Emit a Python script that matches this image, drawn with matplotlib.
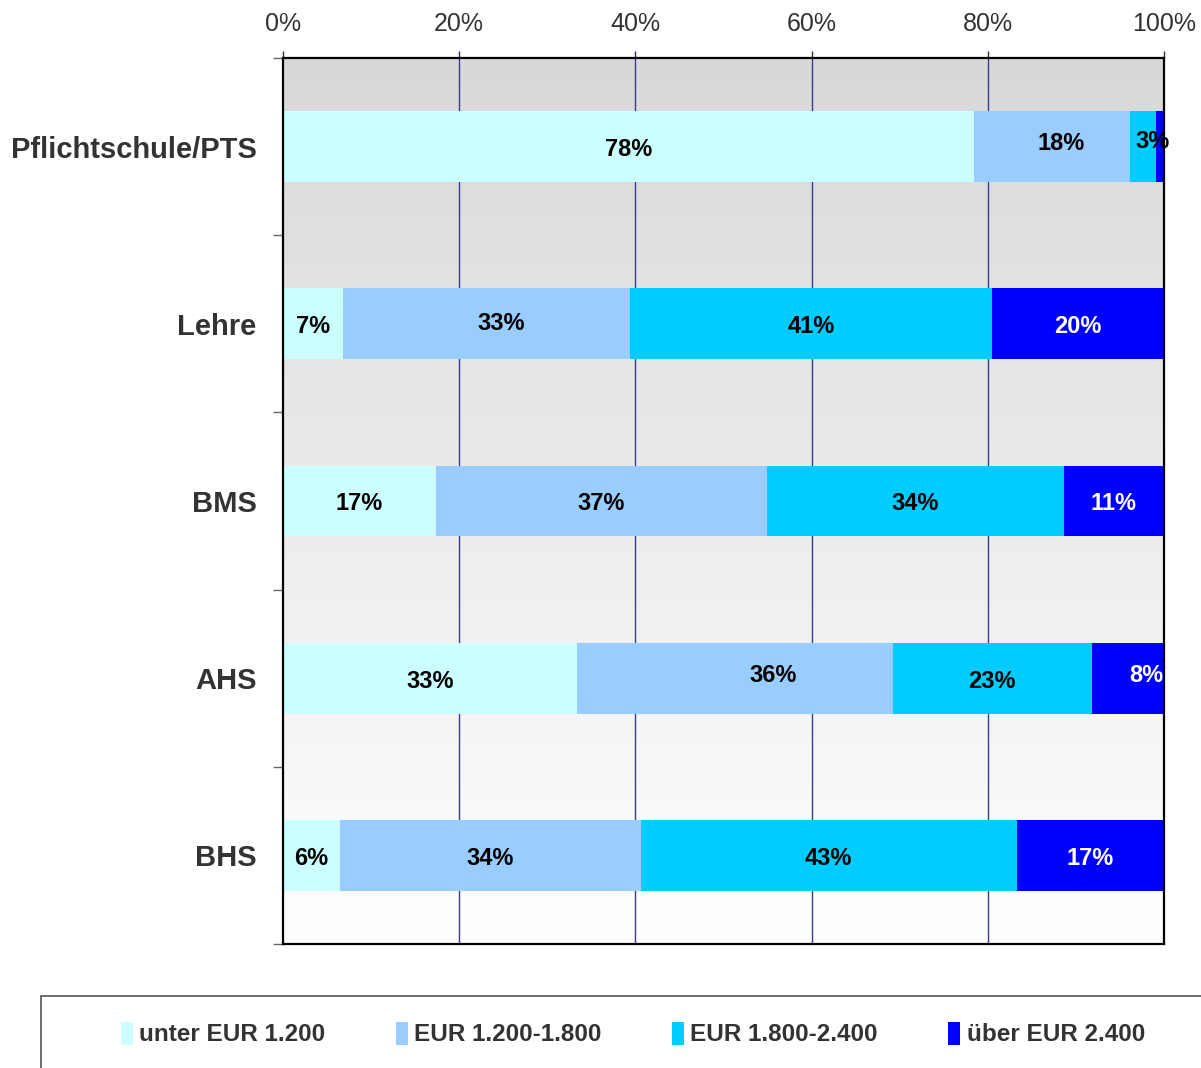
import numpy as np
import matplotlib.pyplot as plt
from matplotlib.patches import Rectangle

plt.rcParams['font.family'] = ['Liberation Sans', 'DejaVu Sans']

categories = ['Pflichtschule/PTS', 'Lehre', 'BMS', 'AHS', 'BHS']
series = ['unter EUR 1.200', 'EUR 1.200-1.800', 'EUR 1.800-2.400', 'über EUR 2.400']
unter_1200 = [78.4, 6.8, 17.4, 33.4, 6.5]
eur_1200_1800 = [17.7, 32.6, 37.5, 35.8, 34.1]
eur_1800_2400 = [3.0, 41.1, 33.7, 22.6, 42.7]
ueber_2400 = [0.9, 19.5, 11.4, 8.2, 16.7]
labels = [
    ['78%', '18%', '3%', ''],
    ['7%', '33%', '41%', '20%'],
    ['17%', '37%', '34%', '11%'],
    ['33%', '36%', '23%', '8%'],
    ['6%', '34%', '43%', '17%'],
]
xticks = [0, 20, 40, 60, 80, 100]

colors = ['#CCFFFF', '#99CCFF', '#00CCFF', '#0000FF']
text_colors = ['black', 'black', 'black', 'white']
# some labels sit a bit off-centre in the original (pixels)
dx = [
    [0, 9, 10, 0],
    [0, 15, 0, 0],
    [0, 0, 0, 0],
    [0, 38, 0, 18],
    [0, 0, 0, 0],
]
dy = [
    [0, 6, 8, 0],
    [0, 3, 0, 0],
    [0, 0, 0, 0],
    [0, 6, 0, 6],
    [0, 0, 0, 0],
]

fig = plt.figure(figsize=(12.01, 10.68), dpi=100)
ax = fig.add_axes([0.2356, 0.1161, 0.7336, 0.8296])

# gradient background
grad = np.linspace(0, 1, 256).reshape(-1, 1)
ax.imshow(grad, extent=[0, 100, 4.5, -0.5], aspect='auto', zorder=0,
          cmap=plt.matplotlib.colors.LinearSegmentedColormap.from_list('g', ['#D8D8D8', '#FFFFFF']))

for x in xticks[1:-1]:
    ax.axvline(x, color='#3A3A8C', lw=1, zorder=1)

y = np.arange(len(categories))
data = [unter_1200, eur_1200_1800, eur_1800_2400, ueber_2400]
left = np.zeros(len(categories))
for i, vals in enumerate(data):
    vals = np.array(vals)
    ax.barh(y, vals, left=left, height=0.4, color=colors[i], label=series[i], zorder=2)
    for j in range(len(categories)):
        txt = labels[j][i]
        if txt:
            ax.annotate(txt, (left[j] + vals[j] / 2, y[j]), xytext=(dx[j][i], dy[j][i] - 3),
                        textcoords='offset pixels', ha='center', va='center',
                        fontsize=17, fontweight='bold', color=text_colors[i], zorder=5)
    left += vals

ax.set_xlim(0, 100)
ax.set_ylim(4.5, -0.5)
ax.xaxis.tick_top()
ax.set_xticks(xticks)
ax.set_xticklabels([f'{t}%' for t in xticks], fontsize=18, color='#333333')
ax.tick_params(axis='x', direction='out', length=5, width=1, color='#333333', pad=11)

ax.set_yticks(y)
ax.set_yticklabels(categories, fontsize=21, fontweight='bold', color='#333333')
ax.tick_params(axis='y', which='major', length=0, pad=19)
ax.set_yticks(np.arange(-0.5, 5, 1), minor=True)
ax.tick_params(axis='y', which='minor', length=7, width=1, color='#666666')

for s in ax.spines.values():
    s.set_color('black')
    s.set_linewidth(1.6)
    s.set_zorder(4)

# legend box (cut off at the figure edge)
fig.patches.append(Rectangle((41 / 1201, -0.1), 1.2, 0.1 + (1068 - 996) / 1068,
                             transform=fig.transFigure, fill=False,
                             edgecolor='#555555', lw=1.2))
fig.legend(loc='center', bbox_to_anchor=(633 / 1201, 1 - 1034 / 1068), ncol=4,
           frameon=False, handlelength=0.5, handleheight=1.1, handletextpad=0.25,
           columnspacing=2.9, prop={'size': 17.5, 'weight': 'bold'},
           labelcolor='#333333')

fig.savefig('out.png', dpi=100)
